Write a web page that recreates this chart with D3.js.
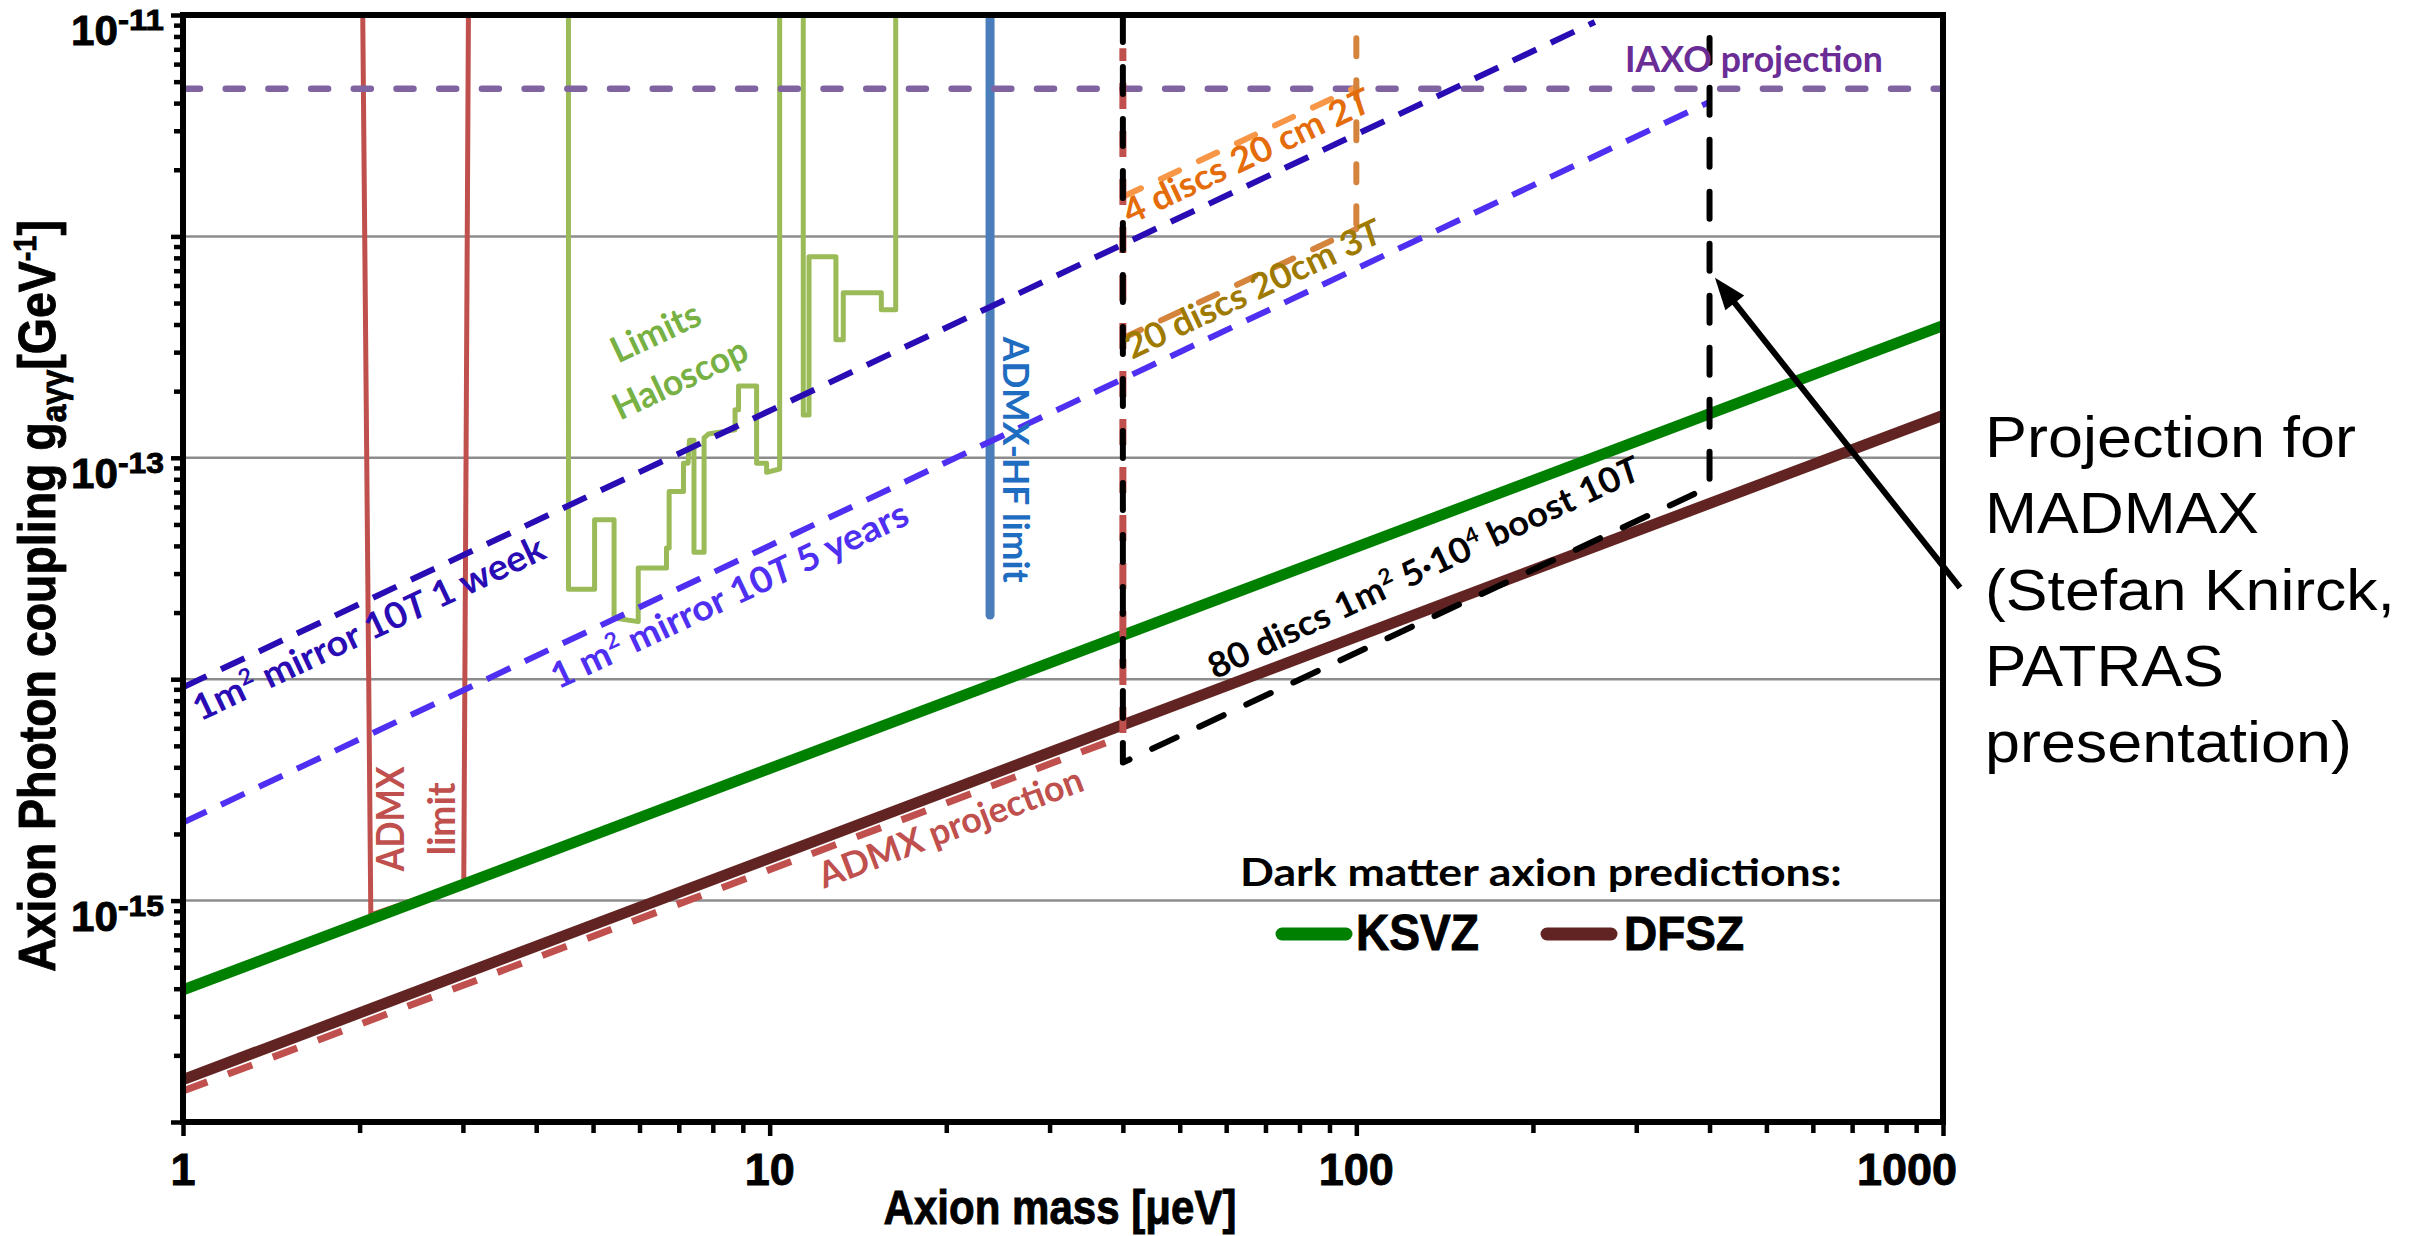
<!DOCTYPE html>
<html><head><meta charset="utf-8">
<script src="https://cdn.jsdelivr.net/npm/d3@7"></script>
<style>html,body{margin:0;padding:0;background:#fff;} svg{display:block;background:#fff;}</style>
</head><body>
<svg id="chart" width="2410" height="1236"></svg>
<script>
// ---------------- DATA ----------------
const xMajorTicks = [1, 10, 100, 1000];
const xTickLabels = ["1", "10", "100", "1000"];
const yGridDecades = [-12, -13, -14, -15];
const yLabelDecades = [-11, -13, -15];
const yLabelTexts = ["-11", "-13", "-15"];

const ksvz = [[1, 3.95e-16], [1000, 3.95e-13]];
const dfsz = [[1, 1.555e-16], [1000, 1.555e-13]];
const admxProjection = [[1, 1.38e-16], [40, 5.52e-15], [40, 7.07e-12]];
const admxLimit = [[2.02, 2e-11], [2.09, 8.63e-16], [3.01, 1.2e-15], [3.07, 2e-11]];
const admxHF = [[23.75, 2e-11], [23.75, 1.95e-14]];
const haloscope = [
  [4.54, 2e-11], [4.54, 2.55e-14], [5.03, 2.55e-14], [5.03, 5.25e-14], [5.43, 5.25e-14],
  [5.43, 1.89e-14], [5.97, 1.82e-14], [5.97, 3.18e-14], [6.67, 3.18e-14], [6.67, 3.91e-14],
  [6.74, 3.91e-14], [6.74, 7.05e-14], [7.13, 7.05e-14], [7.13, 9.46e-14], [7.26, 9.46e-14],
  [7.3, 1.2e-13], [7.43, 1.2e-13], [7.43, 3.74e-14], [7.73, 3.74e-14], [7.73, 1.23e-13],
  [7.86, 1.28e-13], [8.73, 1.34e-13], [8.73, 1.65e-13], [8.85, 1.65e-13], [8.85, 2.11e-13],
  [9.5, 2.11e-13], [9.5, 9.46e-14], [9.88, 9.46e-14], [9.88, 8.6e-14], [10.4, 8.9e-14],
  [10.4, 2e-11], [11.41, 2e-11], [11.41, 1.56e-13], [11.67, 1.56e-13], [11.67, 8.1e-13],
  [12.97, 8.1e-13], [12.97, 3.41e-13], [13.35, 3.41e-13], [13.35, 5.57e-13], [15.5, 5.57e-13],
  [15.5, 4.66e-13], [16.4, 4.66e-13], [16.4, 2e-11]
];
const iaxo = [[1, 4.65e-12], [1000, 4.65e-12]];
const mirror1week = [[1, 9.2e-15], [255, 9.3e-12]];
const mirror5years = [[1, 2.25e-15], [400, 4.05e-12]];
const discs4 = [[40, 1.51e-12], [100, 4.72e-12]];
const discs20 = [[40, 3.47e-13], [100, 1.08e-12]];
const discsEdge100 = [[100, 7.85e-12], [100, 1.08e-12]];
const madmax80 = [[40, 1e-11], [40, 4.2e-15], [400, 7.4e-14], [400, 7.87e-12]];
const arrowMadmax = [[1069, 2.59e-14], [408.6, 6.5e-13]];

// labels: text parts and data-space anchors
const lineLabels = [
  {id: "week", parts: [["1m"], ["2", "sup"], [" mirror 10"], ["T", "it"], [" 1 week"]], at: [1.069, 6.43e-15], slope: 1.25},
  {id: "years", parts: [["1 m"], ["2", "sup"], [" mirror 10"], ["T", "it"], [" 5 years"]], at: [4.357, 8.97e-15], slope: 1.25},
  {id: "limits", parts: [["Limits"]], at: [5.513, 2.657e-13], slope: 1.25},
  {id: "haloscop", parts: [["Haloscop"]], at: [5.557, 1.469e-13], slope: 1.25},
  {id: "admx", parts: [["ADMX"]], at: [2.38, 2.34e-15], angle: -90},
  {id: "admxlimit", parts: [["limit"]], at: [2.908, 2.34e-15], angle: -90},
  {id: "admxhf", parts: [["ADMX-HF limit"]], at: [25.0, 9.8e-14], angle: 90},
  {id: "discs4", parts: [["4 discs 20 cm 2"], ["T", "it"]], at: [41.13, 1.127e-12], slope: 1.25},
  {id: "discs20", parts: [["20 discs 20cm 3"], ["T", "it"]], at: [41.45, 2.77e-13], slope: 1.25},
  {id: "discs80", parts: [["80 discs 1m"], ["2", "sup"], [" 5\u00b710"], ["4", "sup"], [" boost 10"], ["T", "it"]], at: [57.4, 9.95e-15], slope: 1.25},
  {id: "admxproj", parts: [["ADMX projection"]], at: [12.38, 1.132e-15], slope: 1},
  {id: "iaxo", parts: [["IAXO projection"]], at: [287, 5.53e-12], angle: 0}
];
const legendTitle = "Dark matter axion predictions:";
const legendItems = ["KSVZ", "DFSZ"];
const noteLines = ["Projection for", "MADMAX", "(Stefan Knirck,", "PATRAS", "presentation)"];
const xTitle = "Axion mass [\u03bceV]";

// ---------------- STYLE / LAYOUT ----------------
const plot = {left: 183, right: 1943, top: 15, bottom: 1122};
const CAL = "Lato, 'Open Sans', sans-serif";
const HEL = "'Liberation Sans', Arial, sans-serif";
const labelStyle = {
  week:      {color: "#2a0cb5", size: 36, len: 385, anchor: "start"},
  years:     {color: "#4f2ff2", size: 36, len: 391, anchor: "start"},
  limits:    {color: "#77b043", size: 36, len: 95, anchor: "start"},
  haloscop:  {color: "#77b043", size: 36, len: 145, anchor: "start"},
  admx:      {color: "#c0504d", size: 38, len: 105, anchor: "middle"},
  admxlimit: {color: "#c0504d", size: 38, len: 73, anchor: "middle"},
  admxhf:    {color: "#1f6dc1", size: 37, len: 246, anchor: "middle"},
  discs4:    {color: "#e46c0a", size: 35, len: 269, anchor: "start"},
  discs20:   {color: "#9f7a00", size: 35, len: 279, anchor: "start"},
  discs80:   {color: "#000000", size: 35, len: 473, anchor: "start"},
  admxproj:  {color: "#c0504d", size: 36, len: 280, anchor: "start"},
  iaxo:      {color: "#6a2c95", size: 36, len: 258, anchor: "start"}
};

const svg = d3.select("#chart");
const x = d3.scaleLog().domain([1, 1000]).range([plot.left, plot.right]);
const y = d3.scaleLog().domain([1e-16, 1e-11]).range([plot.bottom, plot.top]);
const line = d3.line().x(d => x(d[0])).y(d => y(d[1]));

svg.append("defs").append("clipPath").attr("id", "clip")
  .append("rect").attr("x", plot.left).attr("y", plot.top)
  .attr("width", plot.right - plot.left).attr("height", plot.bottom - plot.top);

// grid
svg.append("g").selectAll("line").data(yGridDecades).join("line")
  .attr("x1", plot.left).attr("x2", plot.right)
  .attr("y1", e => y(Math.pow(10, e))).attr("y2", e => y(Math.pow(10, e)))
  .attr("stroke", "#8c8c8c").attr("stroke-width", 2.5);

// axes ticks
const xMinor = [];
[1, 10, 100].forEach(d => { for (let k = 2; k <= 9; k++) xMinor.push(k * d); });
const yMinor = [];
for (let e = -16; e <= -12; e++) for (let k = 2; k <= 9; k++) yMinor.push(k * Math.pow(10, e));
const yMajor = [-16, -15, -14, -13, -12, -11].map(e => Math.pow(10, e));

function styleAxis(g) {
  g.select(".domain").remove();
  g.selectAll(".tick line").attr("stroke", "#000").attr("stroke-width", 4.5);
  g.selectAll(".tick text").remove();
}
svg.append("g").attr("transform", `translate(0,${plot.bottom})`)
  .call(d3.axisBottom(x).tickValues(xMinor).tickSize(11).tickFormat("")).call(styleAxis);
svg.append("g").attr("transform", `translate(0,${plot.bottom})`)
  .call(d3.axisBottom(x).tickValues(xMajorTicks).tickSize(14).tickFormat("")).call(styleAxis);
svg.append("g").attr("transform", `translate(${plot.left},0)`)
  .call(d3.axisLeft(y).tickValues(yMinor).tickSize(9).tickFormat("")).call(styleAxis);
svg.append("g").attr("transform", `translate(${plot.left},0)`)
  .call(d3.axisLeft(y).tickValues(yMajor).tickSize(12).tickFormat("")).call(styleAxis);

// series
const gPlot = svg.append("g").attr("clip-path", "url(#clip)");
function drawPath(data, color, width, dash, cap) {
  gPlot.append("path").datum(data).attr("d", line).attr("fill", "none")
    .attr("stroke", color).attr("stroke-width", width)
    .attr("stroke-dasharray", dash || null)
    .attr("stroke-linecap", cap || "butt").attr("stroke-linejoin", "round");
}
drawPath(haloscope, "#9bbb59", 5);
drawPath(admxLimit, "#c0504d", 5);
drawPath(admxHF, "#4a7ebb", 9, null, "round");
drawPath(iaxo, "#8064a2", 6.5, "17,25.7", "round");
drawPath(mirror1week, "#2a0cb5", 6, "26,16");
drawPath(mirror5years, "#4f2ff2", 6, "26,16");
drawPath(discs4, "#f79646", 6, "20,22", "round");
drawPath(discs20, "#d4843c", 6, "20,22", "round");
drawPath(discsEdge100, "#d4843c", 6, "18,24", "round");
drawPath(ksvz, "#008000", 11);
drawPath(dfsz, "#622423", 11);
drawPath(admxProjection, "#c0504d", 7, "26,22");
drawPath(madmax80, "#000000", 6, "27,25", "round");

// frame
svg.append("rect").attr("x", plot.left).attr("y", plot.top)
  .attr("width", plot.right - plot.left).attr("height", plot.bottom - plot.top)
  .attr("fill", "none").attr("stroke", "#000").attr("stroke-width", 6);

// text helper
function makeText(parent, parts, size, family, weight, color, anchor) {
  const t = parent.append("text").attr("font-family", family).attr("font-size", size)
    .attr("font-weight", weight).attr("fill", color).attr("text-anchor", anchor || "start");
  let shift = 0;
  parts.forEach(p => {
    const ts = t.append("tspan").text(p[0]);
    let target = 0;
    if (p[1] === "sup") { target = -size * 0.38; ts.attr("font-size", size * 0.62); }
    if (p[1] === "sub") { target = size * 0.22; ts.attr("font-size", size * 0.68); }
    if (p[1] === "it") ts.attr("font-style", "italic");
    if (target - shift !== 0) ts.attr("dy", target - shift);
    shift = target;
  });
  return t;
}
function place(t, px, py, angle, len) {
  const w = t.node().getComputedTextLength();
  const sx = len ? len / w : 1;
  t.attr("transform", `translate(${px},${py}) rotate(${angle}) scale(${sx},1)`);
}
function heavy(t) { return t.attr("stroke", "#000").attr("stroke-width", 0.9); }

// line labels
const gLab = svg.append("g");
lineLabels.forEach(l => {
  const s = labelStyle[l.id];
  const t = makeText(gLab, l.parts, s.size, CAL, 700, s.color, s.anchor);
  let angle = l.angle;
  if (angle === undefined) {
    const dx = x(10) - x(1);
    const dy = y(1e-15 * Math.pow(10, l.slope)) - y(1e-15);
    angle = Math.atan2(dy, dx) * 180 / Math.PI;
  }
  place(t, x(l.at[0]), y(l.at[1]), angle, s.len);
});

// y tick labels
yLabelDecades.forEach((e, i) => {
  const yy = y(Math.pow(10, e));
  const b = heavy(svg.append("text").attr("font-family", HEL).attr("font-weight", 700)
    .attr("font-size", 42).attr("text-anchor", "end").text("10"));
  place(b, plot.left - 65, yy + 30, 0, 47);
  const s = heavy(svg.append("text").attr("font-family", HEL).attr("font-weight", 700)
    .attr("font-size", 30).attr("text-anchor", "start").text(yLabelTexts[i]));
  place(s, plot.left - 65, yy + 15, 0, 46);
});
// x tick labels
xMajorTicks.forEach((v, i) => {
  const t = heavy(svg.append("text").attr("font-family", HEL).attr("font-weight", 700)
    .attr("font-size", 45).attr("text-anchor", "middle").text(xTickLabels[i]));
  const px = i === xMajorTicks.length - 1 ? x(v) - 36 : x(v);
  place(t, px, plot.bottom + 63, 0, null);
});

// axis titles
const xt = heavy(svg.append("text").attr("font-family", HEL).attr("font-weight", 700)
  .attr("font-size", 48).attr("text-anchor", "middle").text(xTitle));
place(xt, (plot.left + plot.right) / 2 - 3, 1224, 0, 353);
const yt = heavy(makeText(svg, [["Axion Photon coupling g"], ["a\u03b3\u03b3", "sub"], ["[GeV"], ["-1", "sup"], ["]"]],
  51, HEL, 700, "#000", "middle"));
place(yt, 55, 596, -90, 752);

// legend
const lg = svg.append("g");
const lt = lg.append("text").attr("font-family", CAL).attr("font-weight", 700).attr("font-size", 38)
  .attr("fill", "#000").text(legendTitle);
place(lt, 1240, 886, 0, 602);
const legColors = ["#008000", "#622423"];
const legX = [1282, 1547];
const legTextX = [1356, 1624];
const legLen = [123, 120];
legendItems.forEach((name, i) => {
  lg.append("line").attr("x1", legX[i]).attr("x2", legX[i] + 64).attr("y1", 934).attr("y2", 934)
    .attr("stroke", legColors[i]).attr("stroke-width", 13).attr("stroke-linecap", "round");
  const t = heavy(lg.append("text").attr("font-family", HEL).attr("font-weight", 700).attr("font-size", 49)
    .attr("fill", "#000").text(name));
  place(t, legTextX[i], 950, 0, legLen[i]);
});

// annotation note + arrow
const noteLen = [371, 274, 410, 239, 367];
noteLines.forEach((s, i) => {
  const t = svg.append("text").attr("font-family", HEL).attr("font-size", 58).attr("fill", "#000").text(s);
  place(t, 1985, 457 + i * 76.3, 0, noteLen[i]);
});
(function () {
  const tail = [x(arrowMadmax[0][0]), y(arrowMadmax[0][1])];
  const tip = [x(arrowMadmax[1][0]), y(arrowMadmax[1][1])];
  const dx = tip[0] - tail[0], dy = tip[1] - tail[1];
  const L = Math.hypot(dx, dy), ux = dx / L, uy = dy / L;
  const hl = 32, hw = 12;
  const bx = tip[0] - ux * hl, by = tip[1] - uy * hl;
  svg.append("line").attr("x1", tail[0]).attr("y1", tail[1]).attr("x2", bx + ux * 4).attr("y2", by + uy * 4)
    .attr("stroke", "#000").attr("stroke-width", 6);
  svg.append("path").attr("d", d3.line()([[tip[0], tip[1]], [bx - uy * hw, by + ux * hw], [bx + uy * hw, by - ux * hw]]) + "Z")
    .attr("fill", "#000");
})();
</script>
</body></html>
